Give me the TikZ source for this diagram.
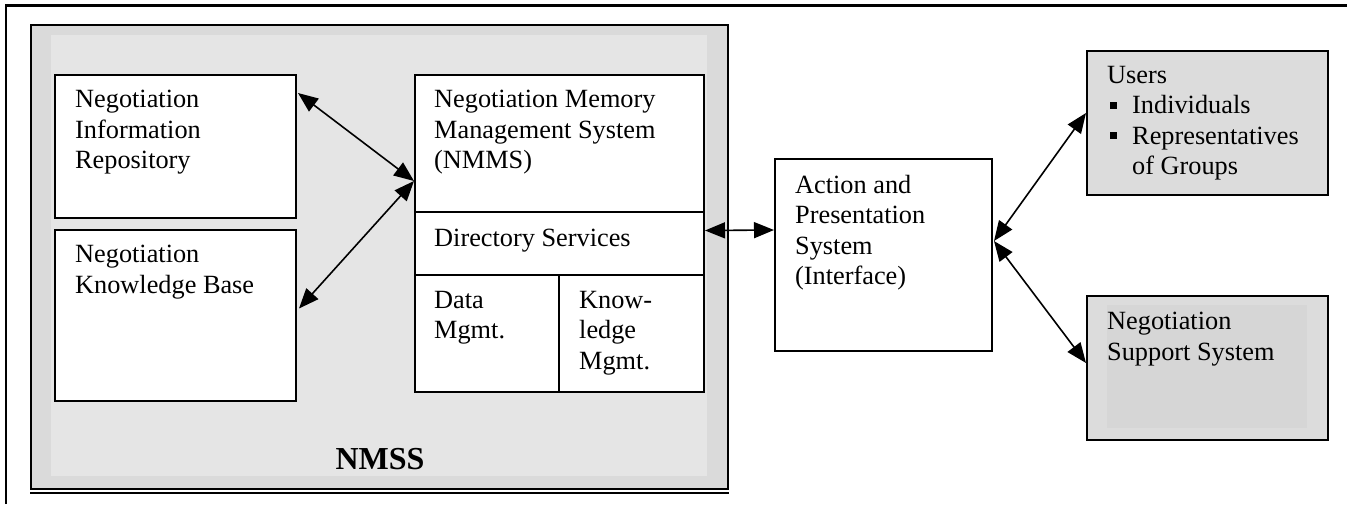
\documentclass[tikz,border=0pt]{standalone}
\usepackage{fontspec}
\setmainfont{Liberation Serif}
\usetikzlibrary{arrows.meta,calc}
\definecolor{bandgray}{HTML}{DADADA}
\definecolor{panelgray}{HTML}{E5E5E5}
\definecolor{boxgray}{HTML}{DCDCDC}
\definecolor{innergray}{HTML}{D6D6D6}
\newcommand\sqbullet{\hspace*{3pt}\rule[5pt]{7pt}{7pt}\hspace*{15pt}}
\begin{document}
\begin{tikzpicture}[x=1pt,y=-1pt,
  box/.style={draw=black,line width=2pt,fill=white,inner sep=0pt,anchor=north west},
  greybox/.style={box,fill=boxgray},
  txt/.style={anchor=north west,align=left,inner sep=0pt,font=\fontsize{26.3}{30.4}\selectfont},
  link/.style={line width=1.6pt,{Triangle[length=20pt,width=16pt]}-{Triangle[length=20pt,width=16pt]}}]
\useasboundingbox (0,0) rectangle (1347,504);
\fill[white] (0,0) rectangle (1347,504);
% page frame
\draw[line width=2.2pt] (6,504) -- (6,5.5) -- (1347,5.5);

% NMSS container
\node[box,fill=bandgray,line width=1.8pt,minimum width=697pt,minimum height=464pt] (nmss) at (30,24) {};
\fill[panelgray] (51,35) rectangle (707,476);
\draw[line width=1.4pt] ($(nmss.south west)+(0,3)$) -- ($(nmss.south east)+(0,3)$);
\node[anchor=base,inner sep=0pt,font=\bfseries\fontsize{32}{36}\selectfont] (nmsslabel) at (380,469) {NMSS};

% left stores
\node[box,minimum width=241pt,minimum height=143pt] (nir) at (54,74) {};
\node[txt] (nirtxt) at (75,90) {Negotiation\\Information\\Repository};
\node[box,minimum width=241pt,minimum height=171pt] (nkb) at (54,229) {};
\node[txt] (nkbtxt) at (75,245) {Negotiation\\Knowledge Base};

% NMMS stack
\node[box,minimum width=289pt,minimum height=137pt] (mtop) at (414,74) {};
\node[txt] (mtoptxt) at (434,90) {Negotiation Memory\\Management System\\(NMMS)};
\node[box,minimum width=289pt,minimum height=63pt] (dir) at (414,211) {};
\node[txt] (dirtxt) at (434,229) {Directory Services};
\node[box,minimum width=144pt,minimum height=117pt] (data) at (414,274) {};
\node[txt] (datatxt) at (434,291) {Data\\Mgmt.};
\node[box,minimum width=145pt,minimum height=117pt] (know) at (558,274) {};
\node[txt] (knowtxt) at (579,291) {Know-\\ledge\\Mgmt.};

% interface
\node[box,minimum width=217pt,minimum height=192pt] (act) at (774,158) {};
\node[txt] (acttxt) at (795,175) {Action and\\Presentation\\System\\(Interface)};

% external parties
\node[greybox,minimum width=241pt,minimum height=144pt] (users) at (1086,50) {};
\node[txt] (userstxt) at (1107,66) {Users\\\sqbullet Individuals\\\sqbullet Representatives\\\hspace*{25pt}of Groups};
\node[greybox,minimum width=241pt,minimum height=144pt] (nss) at (1086,295) {};
\fill[innergray] (1107,305) rectangle (1307,428);
\node[txt] (nsstxt) at (1107,312) {Negotiation\\Support System};

% connectors
\coordinate (hub) at ($(mtop.south west)+(0,-32)$);
\coordinate (hubact) at ($(act.east)+(1,-14)$);
\draw[link] ($(nir.north east)+(1,19)$) -- (hub);
\draw[link] ($(nkb.east)+(2,-7)$) -- (hub);
\draw[link] ($(dir.east)+(0,-13)$) -- ($(act.west)+(0,-25)$);
\draw[link] (hubact) -- ($(users.west)+(0,-10)$);
\draw[link] (hubact) -- ($(nss.west)+(0,-5)$);
\end{tikzpicture}
\end{document}
